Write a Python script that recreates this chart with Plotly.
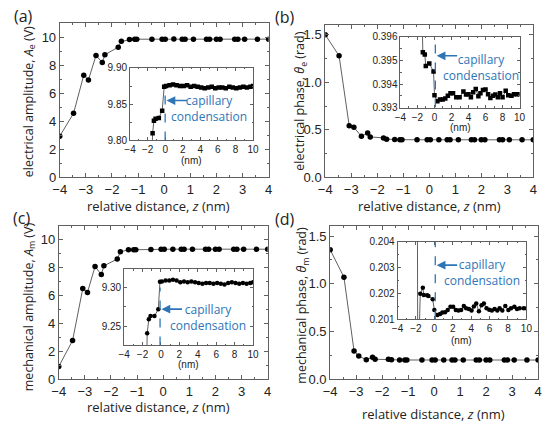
import plotly.graph_objects as go

W, H = 549, 425

def px(x):
    return x / W

def py(y):
    return 1 - y / H

# ---------------- data ----------------
main_x = [-4, -3.47, -3.08, -2.9, -2.61, -2.37, -2.27, -1.76, -1.64, -1.33, -1.13, -1.05,
          -0.47, -0.08, 0.04, 0.37, 0.69, 0.8, 1.12, 1.62, 1.74, 2.0, 2.14, 2.7, 2.82, 3.08, 3.57, 4.0]

amp_e = [2.93, 4.57, 7.3, 6.96, 8.71, 8.2, 8.76, 9.3, 9.72, 9.84, 9.87, 9.87,
         9.87, 9.875, 9.875, 9.876, 9.875, 9.875, 9.874, 9.873, 9.873, 9.873, 9.874, 9.873, 9.873, 9.874, 9.874, 9.875]
phase_e = [1.5, 1.28, 0.543, 0.526, 0.43, 0.465, 0.424, 0.414, 0.40, 0.396, 0.395, 0.395,
           0.394, 0.394, 0.3935, 0.3934, 0.3934, 0.3935, 0.3936, 0.3935, 0.3936, 0.3935, 0.3936, 0.3935, 0.3936, 0.3935, 0.3936, 0.3936]
amp_m = [0.91, 2.77, 6.49, 6.21, 8.07, 7.49, 8.12, 8.6, 9.12, 9.26, 9.265, 9.27,
         9.28, 9.307, 9.308, 9.309, 9.309, 9.308, 9.307, 9.306, 9.306, 9.305, 9.306, 9.305, 9.306, 9.306, 9.305, 9.306]
phase_m = [1.357, 1.069, 0.295, 0.244, 0.204, 0.231, 0.21, 0.21, 0.204, 0.2025, 0.202, 0.202,
           0.2018, 0.2014, 0.2013, 0.2012, 0.2013, 0.2013, 0.2014, 0.2015, 0.2015, 0.2014, 0.2014, 0.2015, 0.2014, 0.2014, 0.2015, 0.2015]

# insets
ins_a_x = [-1.64, -1.43, -1.28, -1.09, -0.72, -0.34, -0.11,
           0.1, 0.5, 0.9, 1.3, 1.7, 2.1, 2.5, 2.9, 3.3, 3.7, 4.1, 4.5, 4.9, 5.3, 5.7, 6.1, 6.5, 6.9, 7.3, 7.7, 8.1, 8.5, 8.9, 9.3, 9.7, 10.0]
ins_a_y = [9.72, 9.810, 9.827, 9.830, 9.831, 9.841, 9.874,
           9.875, 9.876, 9.877, 9.876, 9.875, 9.875, 9.876, 9.874, 9.875, 9.874, 9.873, 9.872, 9.873, 9.874, 9.872, 9.873, 9.873, 9.872, 9.874, 9.873, 9.872, 9.873, 9.874, 9.873, 9.874, 9.875]

ins_b_x = [-1.64, -1.37, -1.14, -1.02, -0.61, -0.11, 0.0, 0.34, 0.65, 0.96, 1.27, 1.57, 1.88, 2.18,
           2.56, 2.95, 3.4, 3.71, 4.0, 4.28, 4.55, 4.85, 5.16, 5.4, 5.7, 6.0, 6.3, 6.57, 6.88, 7.15,
           7.45, 7.7, 8.0, 8.37, 8.67, 9.05, 9.35, 9.7, 10.0]
ins_b_y = [0.4000, 0.39535, 0.39525, 0.39477, 0.39487, 0.39453, 0.39352, 0.39327, 0.39334, 0.39334,
           0.39338, 0.39350, 0.39361, 0.39361, 0.39344, 0.39344, 0.39368, 0.39355, 0.39357, 0.39344,
           0.39365, 0.39379, 0.39348, 0.39361, 0.39375, 0.39377, 0.39357, 0.39341, 0.39350, 0.39355,
           0.39344, 0.39361, 0.39344, 0.39371, 0.39352, 0.39350, 0.39357, 0.39357, 0.39357]

ins_c_x = [-1.64, -1.5, -1.32, -1.14, -0.71, -0.29, -0.11,
           0.1, 0.5, 0.9, 1.3, 1.7, 2.1, 2.5, 2.9, 3.3, 3.7, 4.1, 4.5, 4.9, 5.3, 5.7, 6.1, 6.5, 6.9, 7.3, 7.7, 8.1, 8.5, 8.9, 9.3, 9.7, 10.0]
ins_c_y = [9.12, 9.2408, 9.2588, 9.263, 9.263, 9.272, 9.3075,
           9.308, 9.309, 9.309, 9.310, 9.309, 9.307, 9.308, 9.307, 9.308, 9.307, 9.306, 9.305, 9.306, 9.306,
           9.305, 9.306, 9.305, 9.304, 9.306, 9.307, 9.306, 9.305, 9.306, 9.305, 9.306, 9.307]

ins_d_x = [-1.9, -1.8, -1.53, -1.25, -1.15, -0.78, -0.64, -0.18, 0.0, 0.33, 0.62, 0.87, 1.16, 1.45,
           1.75, 2.04, 2.33, 2.62, 2.91, 3.2, 3.45, 3.75, 4.04, 4.29, 4.55, 4.84, 5.13, 5.38, 5.67,
           5.96, 6.25, 6.55, 6.84, 7.09, 7.38, 7.71, 8.04, 8.33, 8.69, 8.98, 9.27, 9.71, 10.0]
ins_d_y = [0.215, 0.1985, 0.20199, 0.20222, 0.20194, 0.20193, 0.20190, 0.20178, 0.20136, 0.20117,
           0.20121, 0.20126, 0.20127, 0.20136, 0.20149, 0.20149, 0.20136, 0.20134, 0.20136, 0.20152,
           0.20143, 0.20140, 0.20134, 0.20150, 0.20161, 0.20131, 0.20155, 0.20161, 0.20143, 0.20137,
           0.20134, 0.20140, 0.20134, 0.20143, 0.20134, 0.20152, 0.20136, 0.20143, 0.20149, 0.20140,
           0.20143, 0.20143, 0.20143]

main_xticks = [-4, -3, -2, -1, 0, 1, 2, 3, 4]
inset_xticks = [-4, -2, 0, 2, 4, 6, 8, 10]

# ---------------- styling ----------------
FRAME = "#606060"
LINE = "#606060"
BLUE = "#2E75B6"
TXT = "#222222"
TICKFONT = dict(family="Liberation Sans, Arial", size=13, color=TXT)
INSFONT = dict(family="Liberation Sans, Arial", size=10, color=TXT)
TITLEFONT = dict(family="Open Sans", size=13, color=TXT)
YTITLEFONT = dict(family="Open Sans", size=12.5, color=TXT)

fig = go.Figure()

# axis layout (pixel boxes: left, right, top, bottom)
main_boxes = {
    1: (54, 268, 18, 177),
    2: (326, 539, 20, 177),
    3: (53, 267, 227, 386),
    4: (331, 544, 228, 386),
}
inset_boxes = {
    5: (126, 252, 64, 139),
    6: (403, 525, 32, 105),
    7: (120, 252, 272, 351),
    8: (400, 532, 244, 324),
}
main_yr = {1: (0, 11), 2: (0, 1.6), 3: (0, 11), 4: (0, 1.6)}
main_ytick = {1: (2, 1), 2: (0.5, 0.25), 3: (2, 1), 4: (0.5, 0.25)}
main_yfmt = {1: "d", 2: ".1f", 3: "d", 4: ".1f"}
ins_yr = {5: (9.80, 9.90), 6: (0.393, 0.396), 7: (9.225, 9.324), 8: (0.201, 0.204)}
ins_ytick = {5: (0.05, 0.025), 6: (0.001, 0.0005), 7: (0.05, 0.025), 8: (0.001, 0.0005)}
ins_yfmt = {5: ".2f", 6: ".3f", 7: ".2f", 8: ".3f"}


def axname(i, ax):
    return f"{ax}axis" if i == 1 else f"{ax}axis{i}"


def ref(i, ax):
    return ax if i == 1 else f"{ax}{i}"


layout_axes = {}
for i, (l, r, t, b) in main_boxes.items():
    layout_axes[axname(i, "x")] = dict(
        domain=[px(l), px(r)], anchor=ref(i, "y"), range=[-4, 4],
        tickvals=main_xticks, ticks="inside", ticklen=4, tickcolor=FRAME,
        minor=dict(ticks="inside", ticklen=2, dtick=0.5, tickcolor=FRAME),
        showline=True, linecolor=FRAME, linewidth=1, mirror="ticks",
        showgrid=False, zeroline=False, tickfont=TICKFONT,
    )
    y0, y1 = main_yr[i]
    dt, mdt = main_ytick[i]
    layout_axes[axname(i, "y")] = dict(
        domain=[py(b), py(t)], anchor=ref(i, "x"), range=[y0, y1],
        tick0=0, dtick=dt, tickformat=main_yfmt[i], ticks="inside", ticklen=4, tickcolor=FRAME,
        minor=dict(ticks="inside", ticklen=2, dtick=mdt, tickcolor=FRAME),
        showline=True, linecolor=FRAME, linewidth=1, mirror="ticks",
        showgrid=False, zeroline=False, tickfont=TICKFONT,
    )

for i, (l, r, t, b) in inset_boxes.items():
    layout_axes[axname(i, "x")] = dict(
        domain=[px(l), px(r)], anchor=ref(i, "y"), range=[-4, 10],
        tickvals=inset_xticks, ticks="inside", ticklen=3, tickcolor=FRAME,
        minor=dict(ticks="inside", ticklen=1.5, dtick=1, tickcolor=FRAME),
        showline=True, linecolor=FRAME, linewidth=1, mirror="ticks",
        showgrid=False, zeroline=False, tickfont=INSFONT,
    )
    y0, y1 = ins_yr[i]
    dt, mdt = ins_ytick[i]
    layout_axes[axname(i, "y")] = dict(
        domain=[py(b), py(t)], anchor=ref(i, "x"), range=[y0, y1],
        tick0=ins_yr[i][0] if i != 7 else 9.25, dtick=dt, tickformat=ins_yfmt[i],
        ticks="inside", ticklen=3, tickcolor=FRAME,
        minor=dict(ticks="inside", ticklen=1.5, dtick=mdt, tickcolor=FRAME),
        showline=True, linecolor=FRAME, linewidth=1, mirror="ticks",
        showgrid=False, zeroline=False, tickfont=INSFONT,
    )

# main traces
for i, ys in zip([1, 2, 3, 4], [amp_e, phase_e, amp_m, phase_m]):
    fig.add_trace(go.Scatter(
        x=main_x, y=ys, mode="lines+markers", xaxis=ref(i, "x"), yaxis=ref(i, "y"),
        line=dict(color=LINE, width=1), marker=dict(color="black", size=5.5),
        showlegend=False, hoverinfo="skip",
    ))

# inset traces
for i, xs, ys, sym in zip([5, 6, 7, 8], [ins_a_x, ins_b_x, ins_c_x, ins_d_x],
                          [ins_a_y, ins_b_y, ins_c_y, ins_d_y],
                          ["square", "square", "circle", "circle"]):
    fig.add_trace(go.Scatter(
        x=xs, y=ys, mode="lines+markers", xaxis=ref(i, "x"), yaxis=ref(i, "y"),
        line=dict(color=LINE, width=1), marker=dict(color="black", size=4.5, symbol=sym),
        showlegend=False, hoverinfo="skip",
    ))

shapes = []
annotations = []

# dashed lines and arrows in insets
dash_spec = {5: (0.0, 9.80, 9.874), 6: (0.1, 0.393, 0.396), 7: (-0.1, 9.225, 9.300), 8: (0.1, 0.201, 0.204)}
for i, (xv, ya, yb) in dash_spec.items():
    shapes.append(dict(type="line", xref=ref(i, "x"), yref=ref(i, "y"), x0=xv, x1=xv, y0=ya, y1=yb,
                       line=dict(color=BLUE, width=1.3, dash="dash")))

arrow_spec = {5: (0.15, 9.855), 6: (0.25, 0.3952), 7: (0.05, 9.272), 8: (0.25, 0.2031)}
for i, (xv, yv) in arrow_spec.items():
    annotations.append(dict(x=xv, y=yv, xref=ref(i, "x"), yref=ref(i, "y"), ax=22, ay=0,
                            showarrow=True, arrowhead=2, arrowsize=1.1, arrowwidth=1.6,
                            arrowcolor=BLUE, text=""))

# "capillary condensation" labels (center x, center y in pixels)
cap_text = {5: (207, 106), 6: (486, 64), 7: (206, 322), 8: (487, 276)}
for i, (x, y) in cap_text.items():
    annotations.append(dict(x=px(x), y=py(y), xref="paper", yref="paper",
                            text="capillary<br>condensation", align="center",
                            showarrow=False, font=dict(family="Open Sans", size=12, color=BLUE),
                            xanchor="center", yanchor="middle"))

# (nm) labels under inset x axes
nm_pos = {5: (189, 160), 6: (464, 126), 7: (186, 371), 8: (466, 346)}
for i, (x, y) in nm_pos.items():
    annotations.append(dict(x=px(x), y=py(y), xref="paper", yref="paper", text="(nm)",
                            showarrow=False, font=INSFONT, xanchor="center", yanchor="middle"))

# x titles
xt = "relative distance, <i>z</i> (nm)"
for (x, y) in [(155, 207), (433, 207), (155, 415), (437, 422)]:
    annotations.append(dict(x=px(x), y=py(y), xref="paper", yref="paper", text=xt,
                            showarrow=False, font=TITLEFONT, xanchor="center", yanchor="middle"))

# y titles
ytitles = [
    ("electrical amplitude, <i>A</i><sub>e</sub> (V)", 23, 99),
    ("electrical phase, <i>θ</i><sub>e</sub> (rad)", 301, 98),
    ("mechanical amplitude, <i>A</i><sub>m</sub> (V)", 23, 311),
    ("mechanical phase, <i>θ</i><sub>m</sub> (rad)", 303, 309),
]
for t, x, y in ytitles:
    annotations.append(dict(x=px(x), y=py(y), xref="paper", yref="paper", text=t, textangle=-90,
                            showarrow=False, font=YTITLEFONT, xanchor="center", yanchor="middle"))

# panel labels
for t, x, y in [("(a)", 17, 10), ("(b)", 285, 11), ("(c)", 15, 219), ("(d)", 285, 220)]:
    annotations.append(dict(x=px(x), y=py(y), xref="paper", yref="paper", text=t,
                            showarrow=False, font=dict(family="Open Sans", size=16, color=TXT),
                            xanchor="center", yanchor="middle"))

fig.update_layout(
    width=W, height=H, margin=dict(l=0, r=0, t=0, b=0),
    paper_bgcolor="white", plot_bgcolor="rgba(0,0,0,0)",
    shapes=shapes, annotations=annotations, showlegend=False,
    **layout_axes,
)

fig.write_html("out.html")
